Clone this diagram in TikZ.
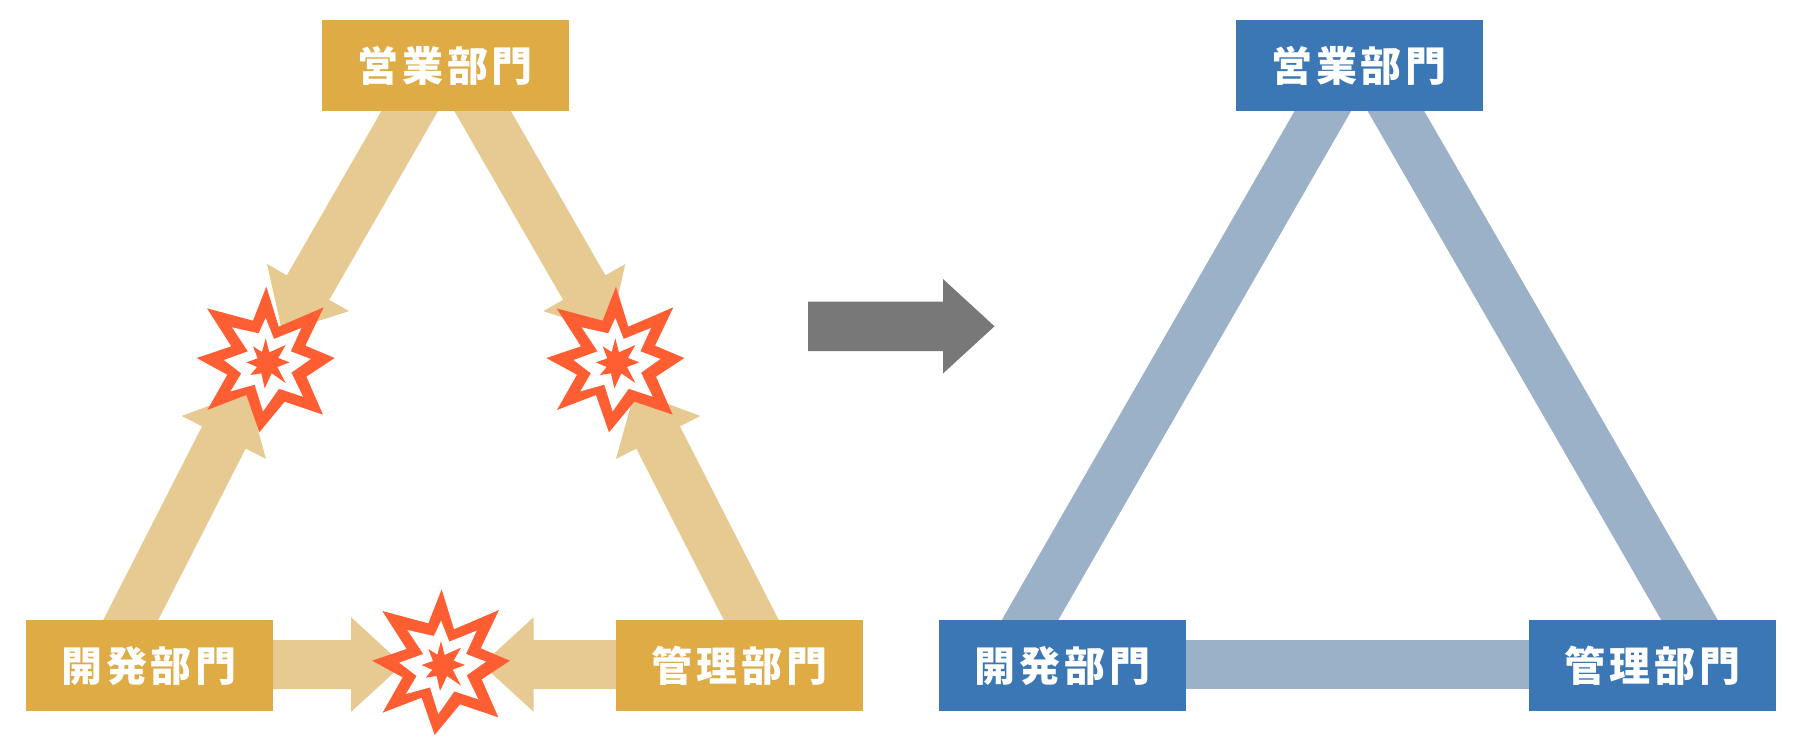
\documentclass[tikz,border=0pt]{standalone}
\usepackage{fontspec}
\usetikzlibrary{calc,backgrounds}
\newfontfamily\cjk[LetterSpace=9]{Noto Sans CJK JP}
\definecolor{amberbox}{HTML}{DEAB45}
\definecolor{amberflow}{HTML}{E6CA92}
\definecolor{bluebox}{HTML}{3B77B5}
\definecolor{blueflow}{HTML}{9BB1C7}
\definecolor{shiftgray}{HTML}{787878}
\definecolor{clash}{HTML}{FF5E33}
\newcommand\deptname[1]{\raisebox{1pt}{#1}}
\tikzset{
  dept/.style={minimum width=247pt,minimum height=91pt,inner sep=0pt,text=white,
    font=\cjk\bfseries\fontsize{41}{41}\selectfont},
  deptold/.style={dept,fill=amberbox},
  deptnew/.style={dept,fill=bluebox},
  link/.style={draw=blueflow,line width=49pt},
  flow/.style={fill=amberflow},
  burst/.pic={
    \begin{scope}[x=.3333pt,y=-.3333pt]
      \path[fill=clash]
        (2,-222)--(39,-102)--(174,-160)--(119,-45)--(207,-8)--(122,48)--(172,162)--(57,123)
        --(-19,215)--(-58,103)--(-175,148)--(-115,42)--(-207,-8)--(-103,-43)--(-176,-157)--(-38,-120)--cycle;
      \path[fill=white]
        (0,-128)--(25,-65)--(107,-98)--(75,-28)--(135,-5)--(77,36)--(112,108)--(40,84)
        --(-8,152)--(-33,72)--(-105,92)--(-73,38)--(-125,-2)--(-53,-28)--(-101,-100)--(-21,-82)--cycle;
      \path[fill=clash]
        (0,-67)--(11,-25)--(60,-47)--(38,-8)--(72,5)--(35,19)--(60,67)--(18,38)
        --(-3,83)--(-13,38)--(-46,43)--(-26,19)--(-58,5)--(-24,-7)--(-38,-43)--(-11,-26)--cycle;
    \end{scope}
  }
}
% Block arrow from #1 to its tip #2, with a fixed head and shaft size
\newcommand\blockarrow[2]{
  \coordinate (headbase) at ($(#2)!51.6pt!(#1)$);
  \fill[flow] ($(#1)!24.5pt!90:(#2)$) -- ($(headbase)!24.5pt!90:(#2)$) -- ($(headbase)!47.3pt!90:(#2)$)
    -- (#2) -- ($(headbase)!47.3pt!-90:(#2)$) -- ($(headbase)!24.5pt!-90:(#2)$) -- ($(#1)!24.5pt!-90:(#2)$) -- cycle;
}
\begin{document}
\begin{tikzpicture}[x=1pt,y=-1pt]
  \useasboundingbox (0,0) rectangle (1802,746);

  % Departments before the change
  \node[deptold] (salesA) at (445.5,65.5) {\deptname{営業部門}};
  \node[deptold] (devA) at (149,665.5) {\deptname{開発部門}};
  \node[deptold] (adminA) at (739.5,665.5) {\deptname{管理部門}};

  % Departments after the change
  \node[deptnew] (salesB) at (1359,65.5) {\deptname{営業部門}};
  \node[deptnew] (devB) at (1062.5,665.5) {\deptname{開発部門}};
  \node[deptnew] (adminB) at (1652.5,665.5) {\deptname{管理部門}};

  % Arrow roots lie under the boxes, tips lie under the bursts
  \coordinate (salesLeft) at (427.6,80);
  \coordinate (salesRight) at (464.7,80);
  \coordinate (tipLeftDown) at (282.3,332.3);
  \coordinate (tipRightDown) at (610,332.3);
  \coordinate (devUp) at (118,645);
  \coordinate (adminUp) at (764,645);
  \coordinate (tipLeftUp) at (247.3,391.5);
  \coordinate (tipRightUp) at (634.7,391.5);
  \coordinate (devOut) at (260,664.5);
  \coordinate (adminOut) at (630,664.5);
  \coordinate (tipDev) at (402.7,664.5);
  \coordinate (tipAdmin) at (482,664.5);

  % Link ends for the joined triangle
  \coordinate (salesL) at (1340.7,80);
  \coordinate (salesR) at (1378,80);
  \coordinate (devT) at (1018.5,640);
  \coordinate (adminT) at (1701,640);
  \coordinate (devE) at (1170,664.5);
  \coordinate (adminW) at (1545,664.5);

  \begin{pgfonlayer}{background}
    \blockarrow{salesLeft}{tipLeftDown}
    \blockarrow{salesRight}{tipRightDown}
    \blockarrow{devUp}{tipLeftUp}
    \blockarrow{adminUp}{tipRightUp}
    \blockarrow{devOut}{tipDev}
    \blockarrow{adminOut}{tipAdmin}
    \draw[link] (salesL) -- (devT);
    \draw[link] (salesR) -- (adminT);
    \draw[link] (devE) -- (adminW);
    \pic at (265.67,360.67) {burst};
    \pic at (615.33,360.67) {burst};
    \pic at (441,663.33) {burst};
  \end{pgfonlayer}

  % Arrow between the two states
  \fill[shiftgray] (808,301.5) -- (943,301.5) -- (943,279) -- (994.5,326.3) -- (943,373.5) -- (943,351) -- (808,351) -- cycle;
\end{tikzpicture}
\end{document}
